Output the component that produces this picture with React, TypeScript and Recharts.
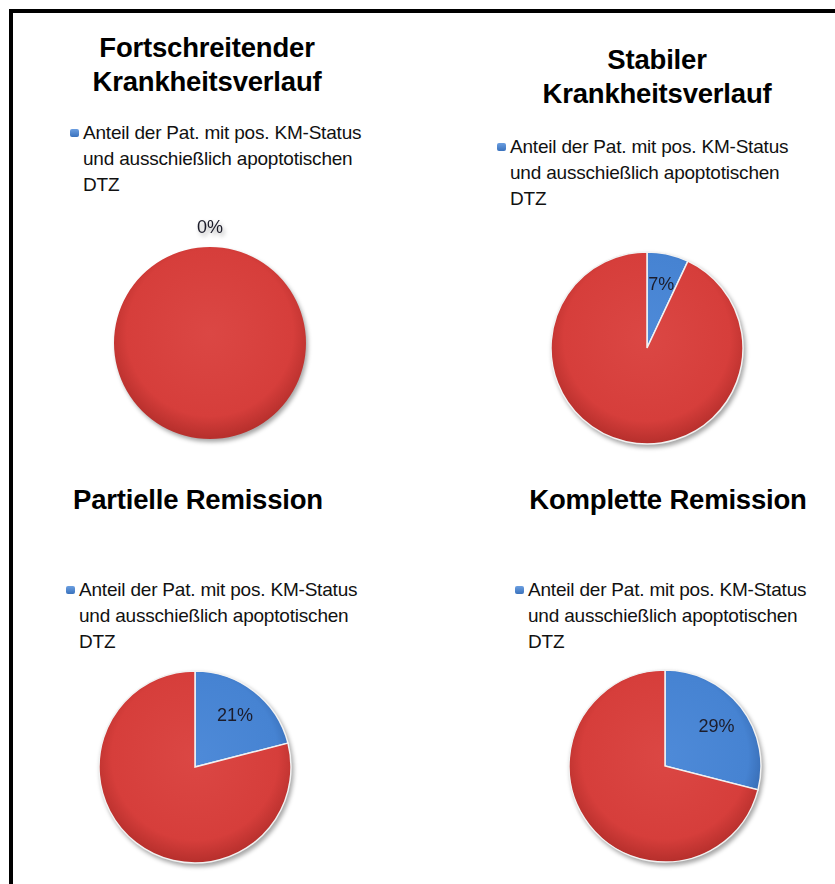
import { PieChart, Pie, Cell } from "recharts";

// Anteil der Patienten je Verlaufsgruppe (in %)
const groups = ["Fortschreitender Krankheitsverlauf", "Stabiler Krankheitsverlauf", "Partielle Remission", "Komplette Remission"];
const titleLines = [["Fortschreitender", "Krankheitsverlauf"], ["Stabiler", "Krankheitsverlauf"], ["Partielle Remission"], ["Komplette Remission"]];
const seriesNames = ["Anteil der Pat. mit pos. KM-Status und ausschießlich apoptotischen DTZ", "übrige Patienten"];
const legendLines = ["Anteil der Pat. mit pos. KM-Status", "und ausschießlich apoptotischen", "DTZ"];
const positiveShare = [0, 7, 21, 29];
const remainingShare = [100, 93, 79, 71];

const FONT = '"Liberation Sans", Arial, sans-serif';
const BLUE = "#4683d2";
const RED = "#d63e3b";

// layout of the four panels (page coordinates)
const panels = [
  { pie: [210, 343], title: [207, 48], legend: [70, 133] },
  { pie: [647, 348], title: [657, 60], legend: [497, 147] },
  { pie: [195, 767], title: [198, 500], legend: [66, 590] },
  { pie: [665, 766], title: [668, 500], legend: [515, 590] },
];

const R = 96;
const BOX = 300;

const renderLabel = (p: any) => {
  if (p.index !== 0) return null;
  const rad = Math.PI / 180;
  const r = p.value === 0 ? p.outerRadius + 20 : p.outerRadius * 0.68;
  const x = p.cx + r * Math.cos(-p.midAngle * rad);
  const y = p.cy + r * Math.sin(-p.midAngle * rad);
  return (
    <text x={x} y={y} textAnchor="middle" dominantBaseline="central" fill="#1c1c2a" fontSize={18} fontFamily={FONT}>
      {`${p.value}%`}
    </text>
  );
};

function Panel({ i }: { i: number }) {
  const pl = panels[i];
  const data = [
    { name: seriesNames[0], value: positiveShare[i] },
    { name: seriesNames[1], value: remainingShare[i] },
  ];
  const lineStroke = positiveShare[i] === 0 ? "none" : "#f2f2f2";
  return (
    <>
      {titleLines[i].map((t, k) => (
        <div
          key={k}
          style={{
            position: "absolute", left: pl.title[0] - 200, width: 400, top: pl.title[1] - 17 + k * 34, height: 34,
            lineHeight: "34px", textAlign: "center", fontFamily: FONT, fontWeight: "bold", fontSize: 27.5,
            letterSpacing: -0.2, color: "#000",
          }}
        >
          {t}
        </div>
      ))}
      <div
        style={{
          position: "absolute", left: pl.legend[0], top: pl.legend[1] - 4, width: 9, height: 8, borderRadius: 2,
          background: "linear-gradient(#6b9ee0, #3a72bd)",
        }}
      />
      {legendLines.map((t, k) => (
        <div
          key={k}
          style={{
            position: "absolute", left: pl.legend[0] + 13, top: pl.legend[1] - 13 + k * 26, height: 26,
            lineHeight: "26px", whiteSpace: "nowrap", fontFamily: FONT, fontSize: 19, letterSpacing: -0.2, color: "#111",
          }}
        >
          {t}
        </div>
      ))}
      <div
        style={{
          position: "absolute", left: pl.pie[0] - BOX / 2, top: pl.pie[1] - BOX / 2,
          filter: "drop-shadow(2px 3px 2px rgba(0,0,0,0.35))",
        }}
      >
        <PieChart width={BOX} height={BOX} margin={{ top: 0, right: 0, bottom: 0, left: 0 }}>
          <defs>
            <radialGradient id={`red${i}`} gradientUnits="userSpaceOnUse" cx={BOX / 2} cy={BOX / 2 - 10} r={R + 8}>
              <stop offset="0%" stopColor="#db4744" />
              <stop offset="80%" stopColor={RED} />
              <stop offset="100%" stopColor="#b8302d" />
            </radialGradient>
            <radialGradient id={`blue${i}`} gradientUnits="userSpaceOnUse" cx={BOX / 2} cy={BOX / 2 - 10} r={R + 8}>
              <stop offset="0%" stopColor="#4e8ad8" />
              <stop offset="80%" stopColor={BLUE} />
              <stop offset="100%" stopColor="#3467ad" />
            </radialGradient>
          </defs>
          <Pie
            data={data}
            dataKey="value"
            nameKey="name"
            cx={BOX / 2}
            cy={BOX / 2}
            outerRadius={R}
            startAngle={90}
            endAngle={-270}
            label={renderLabel}
            labelLine={false}
            isAnimationActive={false}
          >
            <Cell fill={`url(#blue${i})`} stroke={lineStroke} strokeWidth={1.5} />
            <Cell fill={`url(#red${i})`} stroke={lineStroke} strokeWidth={1.5} />
          </Pie>
        </PieChart>
      </div>
    </>
  );
}

export default function App() {
  return (
    <div style={{ position: "absolute", left: 0, top: 0, width: 835, height: 884, background: "#fff", overflow: "hidden" }}>
      <div
        style={{
          position: "absolute", left: 9, top: 9, width: 900, height: 950,
          borderLeft: "4px solid #000", borderTop: "4px solid #000",
        }}
      />
      {groups.map((g, i) => (
        <Panel key={g} i={i} />
      ))}
    </div>
  );
}
